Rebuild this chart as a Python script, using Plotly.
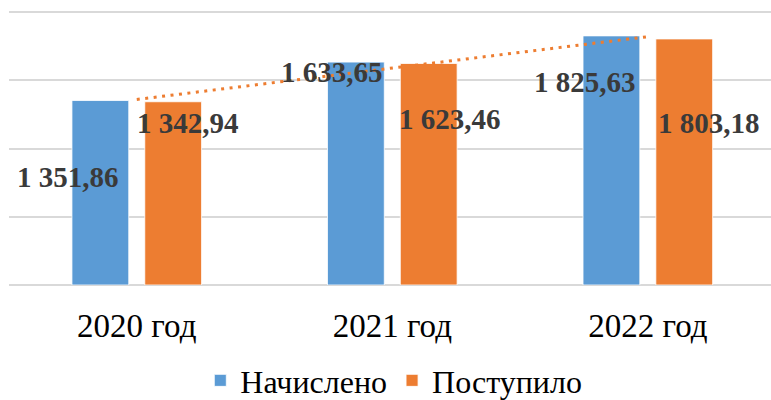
import numpy as np
import plotly.graph_objects as go

categories = ["2020 год", "2021 год", "2022 год"]
nachisleno = [1351.86, 1633.65, 1825.63]
postupilo = [1342.94, 1623.46, 1803.18]
series_names = ["Начислено", "Поступило"]

# label offsets (pixels) relative to category centre / bar top
blue_dx = [-69, -60, -63]
blue_dy = [-76, -10, -46]
orange_dx = [51, 58, 61]
orange_dy = [-21, -56, -84]

BLUE = "#5b9bd5"
ORANGE = "#ed7d31"
SERIF = "Liberation Serif, Times New Roman, serif"


def fmt(v):
    return f"{v:,.2f}".replace(",", " ").replace(".", ",")


fig = go.Figure()
fig.add_trace(go.Bar(x=categories, y=nachisleno, name=series_names[0],
                     marker=dict(color=BLUE, line=dict(color="white", width=0.8))))
fig.add_trace(go.Bar(x=categories, y=postupilo, name=series_names[1],
                     marker=dict(color=ORANGE, line=dict(color="white", width=0.8))))

# linear trendline of "Поступило"
xi = np.arange(len(categories))
k, b = np.polyfit(xi, postupilo, 1)
trend = k * xi + b
fig.add_trace(go.Scatter(x=categories, y=trend, mode="lines", showlegend=False,
                         line=dict(color=ORANGE, width=3, dash="3px,5.5px"),
                         hoverinfo="skip"))

for vals, dxs, dys in ((nachisleno, blue_dx, blue_dy), (postupilo, orange_dx, orange_dy)):
    for c, v, dx, dy in zip(categories, vals, dxs, dys):
        fig.add_annotation(x=c, y=v, xref="x", yref="y", text=fmt(v),
                           showarrow=False, xshift=dx, yshift=dy,
                           xanchor="center", yanchor="middle",
                           font=dict(family=SERIF, size=29, color="#3a3a3a", weight="bold"))

fig.update_layout(
    width=771, height=400,
    margin=dict(l=9, r=0, t=8, b=115, autoexpand=False),
    paper_bgcolor="white", plot_bgcolor="white",
    barmode="group", bargap=0.43, bargroupgap=0.22,
    showlegend=True,
    legend=dict(orientation="h", x=0.505, xanchor="center", y=-0.345, yanchor="middle",
                font=dict(family=SERIF, size=32, color="#000000"),
                itemclick=False, tracegroupgap=0),
    xaxis=dict(range=[-0.5, 2.482], showgrid=False, zeroline=False, showline=False,
               ticks="", ticklabelstandoff=18, automargin=False,
               tickfont=dict(family=SERIF, size=33, color="#000000")),
    yaxis=dict(range=[0, 2030], tickvals=[0, 500, 1000, 1500, 2000],
               showticklabels=False, showgrid=True, automargin=False,
               gridcolor="#d9d9d9", gridwidth=1.5, zeroline=True,
               zerolinecolor="#d9d9d9", zerolinewidth=1.5),
)

fig.write_html("out.html", config={"displayModeBar": False},
               post_script="document.body.style.margin='0';document.body.style.overflow='hidden';")
